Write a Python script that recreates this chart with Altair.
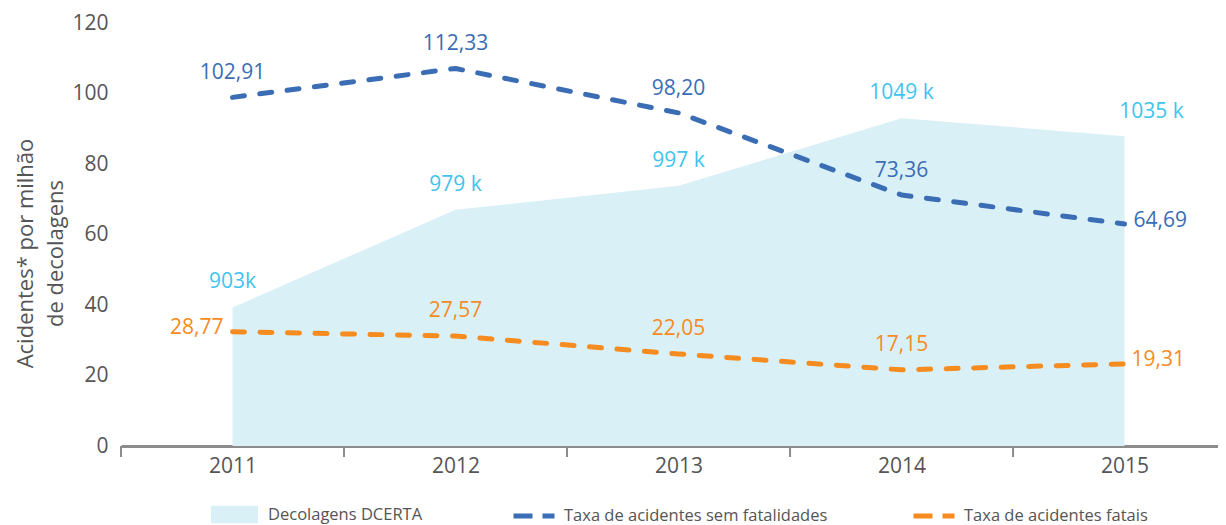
import altair as alt
import pandas as pd

years = [2011, 2012, 2013, 2014, 2015]
# plotted positions (axis units)
decolagens_plot = [39.3, 67.0, 73.8, 93.0, 87.9]
decolagens_labels = ["903k", "979 k", "997 k", "1049 k", "1035 k"]
sem_fat_plot = [98.9, 107.1, 94.5, 71.2, 63.0]
sem_fat_labels = ["102,91", "112,33", "98,20", "73,36", "64,69"]
fatais_plot = [32.4, 31.2, 26.1, 21.6, 23.3]
fatais_labels = ["28,77", "27,57", "22,05", "17,15", "19,31"]
boundaries = [2010.5, 2011.5, 2012.5, 2013.5, 2014.5]
y_ticks = [0, 20, 40, 60, 80, 100, 120]

S_AREA = "Decolagens DCERTA"
S_SEM = "Taxa de acidentes sem fatalidades"
S_FAT = "Taxa de acidentes fatais"

BLUE = "#3a6db4"
ORANGE = "#f68b1f"
CYAN = "#3fc4ef"
AREA = "#daf0f7"
GRAY = "#555555"
AXIS = "#8c8c8c"
FONT = "Open Sans"

area_df = pd.DataFrame({"year": years, "value": decolagens_plot,
                        "label": decolagens_labels, "serie": S_AREA})
lines_df = pd.concat([
    pd.DataFrame({"year": years, "value": sem_fat_plot, "label": sem_fat_labels, "serie": S_SEM}),
    pd.DataFrame({"year": years, "value": fatais_plot, "label": fatais_labels, "serie": S_FAT}),
])
sem_df = lines_df[lines_df.serie == S_SEM]
fat_df = lines_df[lines_df.serie == S_FAT]
bound_df = pd.DataFrame({"b": boundaries})

xscale = alt.Scale(domain=[2010.5, 2015.419], nice=False, zero=False)
yscale = alt.Scale(domain=[0, 120], nice=False)

X = alt.X("year:Q", scale=xscale,
          axis=alt.Axis(values=years, format="d", ticks=False, grid=False,
                        domainColor=AXIS, domainWidth=3, labelFontSize=21,
                        labelFont=FONT, labelColor=GRAY, labelPadding=9, title=None,
                        labelFlush=False))
Y = alt.Y("value:Q", scale=yscale,
          axis=alt.Axis(values=y_ticks, domain=False, ticks=False, grid=False,
                        labelFontSize=21, labelFont=FONT, labelColor=GRAY, labelPadding=13,
                        title=["Acidentes* por milhão", "de decolagens"],
                        titleFontSize=22, titleFont=FONT, titleColor=GRAY,
                        titleFontWeight="normal", titleLineHeight=30,
                        titleX=-84, titleY=230, titleAlign="center"))

rect_path = "M-1,-0.37L1,-0.37L1,0.37L-1,0.37Z"

LEG_FS = 16.5

area = alt.Chart(area_df).mark_area(opacity=1).encode(
    x=X, y=Y,
    fill=alt.Fill("serie:N", scale=alt.Scale(domain=[S_AREA], range=[AREA]),
                  legend=alt.Legend(orient="none", legendX=90, legendY=468, title=None,
                                    symbolType=rect_path, symbolSize=2209,
                                    symbolStrokeWidth=0, symbolOpacity=1,
                                    labelFont=FONT, labelFontSize=LEG_FS, labelColor=GRAY,
                                    labelOffset=10, labelLimit=500, padding=0)),
)

ticks = alt.Chart(bound_df).mark_rule(color=AXIS, strokeWidth=2).encode(
    x=alt.X("b:Q", scale=xscale),
    y=alt.value(423), y2=alt.value(434),
)

lines = alt.Chart(lines_df).mark_line(strokeWidth=5, strokeDash=[12, 15.5],
                                       strokeCap="round", strokeJoin="round").encode(
    x="year:Q", y="value:Q",
    color=alt.Color("serie:N", sort=[S_SEM, S_FAT],
                    scale=alt.Scale(domain=[S_SEM, S_FAT], range=[BLUE, ORANGE]),
                    legend=alt.Legend(orient="none", legendX=390, legendY=470, title=None,
                                      direction="horizontal", symbolType="stroke",
                                      symbolSize=1681, symbolStrokeWidth=5,
                                      symbolDash=[19, 10], labelFont=FONT,
                                      labelFontSize=LEG_FS, labelColor=GRAY, labelOffset=7,
                                      labelLimit=500, columnPadding=75, padding=0)),
    detail="serie:N",
)

def txt(df, color, cond, **kw):
    return alt.Chart(df).transform_filter(cond).mark_text(
        font=FONT, fontSize=21, color=color, baseline="middle", **kw
    ).encode(x="year:Q", y="value:Q", text="label:N")

texts = [
    txt(area_df, CYAN, alt.datum.year < 2015, dy=-25),
    txt(area_df, CYAN, alt.datum.year == 2015, dy=-24, dx=27),
    txt(sem_df, BLUE, alt.datum.year < 2015, dy=-24),
    txt(sem_df, BLUE, alt.datum.year == 2015, align="left", dx=9, dy=-3),
    txt(fat_df, ORANGE, (alt.datum.year > 2011) & (alt.datum.year < 2015), dy=-25),
    txt(fat_df, ORANGE, alt.datum.year == 2015, align="left", dx=7, dy=-4),
    txt(fat_df, ORANGE, alt.datum.year == 2011, align="right", dx=-9, dy=-4),
]

chart = alt.layer(area, ticks, lines, *texts).properties(
    width=1097, height=423,
    autosize=alt.AutoSizeParams(type="none"),
    padding={"left": 113, "top": 15, "right": 0, "bottom": 79},
).configure_view(stroke=None).resolve_scale(fill="independent", color="independent")

chart.save("out.html", embed_options={"renderer": "svg", "actions": False})
